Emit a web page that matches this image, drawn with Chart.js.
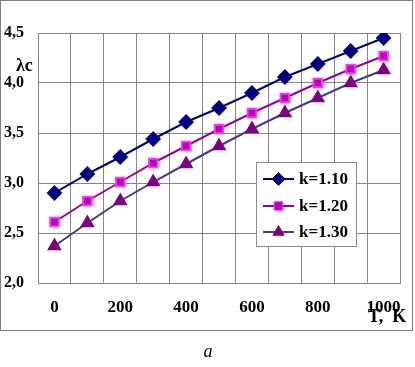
<!DOCTYPE html>
<html>
<head>
<meta charset="utf-8">
<script src="https://cdn.jsdelivr.net/npm/chart.js@4.4.0/dist/chart.umd.min.js"></script>
<style>
  html, body { margin: 0; padding: 0; background: #fff; }
  #wrap { width: 415px; height: 367px; }
</style>
</head>
<body>
<div id="wrap"><canvas id="grafico" width="415" height="367"></canvas></div>
<script>
// temperature T, K
const temperaturas = ["0", "100", "200", "300", "400", "500", "600", "700", "800", "900", "1000"];

// λc for each k
const lambdaK110 = [2.90, 3.09, 3.26, 3.44, 3.61, 3.75, 3.90, 4.06, 4.19, 4.32, 4.45];
const lambdaK120 = [2.61, 2.82, 3.01, 3.20, 3.37, 3.54, 3.70, 3.85, 4.00, 4.14, 4.27];
const lambdaK130 = [2.37, 2.60, 2.82, 3.01, 3.19, 3.37, 3.54, 3.70, 3.85, 4.00, 4.13];

const rotulosSerie = ["k=1.10", "k=1.20", "k=1.30"];

const fonteSerif = "'Liberation Serif', 'Times New Roman', serif";

/* -------------------------------
   textos extras, legenda e moldura
   ------------------------------- */
const extras = {
    id: "extras",
    afterDraw(chart) {
        const ctx = chart.ctx;
        ctx.save();

        // moldura externa
        ctx.strokeStyle = "#7f7f7f";
        ctx.lineWidth = 1;
        ctx.strokeRect(0.5, 0.5, 412, 330);

        ctx.fillStyle = "#000";
        ctx.textBaseline = "middle";

        // λc
        ctx.font = "bold 18px " + fonteSerif;
        ctx.textAlign = "left";
        ctx.fillText("λc", 16, 66);

        // T, K
        ctx.fillText("T,  K", 368, 317);

        // a
        ctx.font = "italic 18px " + fonteSerif;
        ctx.textAlign = "center";
        ctx.fillText("a", 208, 352);

        // legenda
        const lx = 256.5, ly = 162.5, lw = 100, lh = 84;
        ctx.fillStyle = "#fff";
        ctx.fillRect(lx, ly, lw, lh);
        ctx.strokeStyle = "#8c8c8c";
        ctx.strokeRect(lx, ly, lw, lh);

        const linhas = [179, 206, 232];
        chart.data.datasets.forEach((ds, i) => {
            const y = linhas[i];
            ctx.strokeStyle = ds.borderColor;
            ctx.lineWidth = 2;
            ctx.beginPath();
            ctx.moveTo(263, y);
            ctx.lineTo(294, y);
            ctx.stroke();
            ctx.fillStyle = ds.pointBackgroundColor;
            ctx.strokeStyle = ds.pointBorderColor;
            ctx.lineWidth = 1;
            Chart.helpers.drawPoint(ctx, {
                pointStyle: ds.pointStyle,
                radius: ds.pointRadius,
                rotation: 0,
                borderWidth: 1
            }, 278.5, y);
            ctx.fillStyle = "#000";
            ctx.font = "bold 17px " + fonteSerif;
            ctx.textAlign = "left";
            ctx.fillText(rotulosSerie[i], 299, y + 1);
        });

        ctx.restore();
    }
};

new Chart(document.getElementById("grafico"), {
    type: "line",
    data: {
        labels: temperaturas,
        datasets: [{
            label: rotulosSerie[0],
            data: lambdaK110,
            borderColor: "#000080",
            borderWidth: 2,
            pointStyle: "rectRot",
            pointRadius: 6.5,
            pointBackgroundColor: "#000080",
            pointBorderColor: "#000080",
            tension: 0
        }, {
            label: rotulosSerie[1],
            data: lambdaK120,
            borderColor: "#990099",
            borderWidth: 2,
            pointStyle: "rect",
            pointRadius: 6,
            pointBackgroundColor: "#B400B4",
            pointBorderColor: "#FF33FF",
            tension: 0
        }, {
            label: rotulosSerie[2],
            data: lambdaK130,
            borderColor: "#3c3c96",
            borderWidth: 2,
            pointStyle: "triangle",
            pointRadius: 6.5,
            pointBackgroundColor: "#800080",
            pointBorderColor: "#800080",
            tension: 0
        }]
    },
    options: {
        responsive: false,
        animation: false,
        layout: { padding: { left: 0, right: 6, top: 33, bottom: 0 } },
        plugins: {
            legend: { display: false },
            tooltip: { enabled: false }
        },
        scales: {
            x: {
                offset: true,
                afterFit: s => { s.height = 84; },
                grid: { offset: true, color: "#858585", drawTicks: false },
                border: { color: "#858585" },
                ticks: {
                    autoSkip: false,
                    maxRotation: 0,
                    padding: 14,
                    color: "#000",
                    font: { family: fonteSerif, size: 17, weight: "bold" },
                    callback: function (v, i) { return i % 2 === 0 ? this.getLabelForValue(v) : ""; }
                }
            },
            y: {
                min: 2,
                max: 4.5,
                afterFit: s => { s.width = 38; },
                grid: { color: "#858585", drawTicks: false },
                border: { color: "#858585" },
                ticks: {
                    stepSize: 0.5,
                    padding: 14,
                    color: "#000",
                    font: { family: fonteSerif, size: 16, weight: "bold" },
                    callback: v => v.toFixed(1).replace(".", ",")
                }
            }
        }
    },
    plugins: [extras]
});
</script>
</body>
</html>
